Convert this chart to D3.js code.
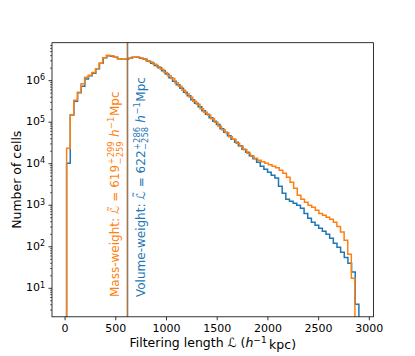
<!DOCTYPE html>
<html>
<head>
<meta charset="utf-8">
<script src="https://cdn.jsdelivr.net/npm/d3@7"></script>
<style>
  body { margin: 0; background: #fff; }
  text { font-family: "DejaVu Sans", sans-serif; white-space: pre; }
</style>
</head>
<body>
<div id="chart"></div>
<script>
    // histogram: 80 equal bins per series, each over its own range (h^-1 kpc)
    const binCount = 80;
    const massRange = [20, 2863];
    const volumeRange = [20, 2902];

    const massCounts = [
        23000, 144000, 330000, 514000, 824000, 1180000, 1320000, 1520000, 1890000, 2570000,
        3480000, 4000000, 3890000, 3580000, 3300000, 3210000, 3220000, 3390000, 3570000, 3590000,
        3480000, 3300000, 2950000, 2720000, 2430000, 2110000, 1840000, 1520000, 1280000, 1090000,
        871000, 717000, 574000, 473000, 389000, 312000, 264000, 206000, 169000, 144000,
        118000, 97000, 78000, 64000, 54300, 43500, 37900, 30300, 25700, 21100,
        17400, 14800, 13200, 11800, 10900, 10000, 9200, 8500, 7800, 6800,
        5700, 4600, 3500, 2500, 1690, 1360, 1150, 970, 870, 740,
        620, 560, 500, 450, 380, 300, 220, 140, 64, 17
    ];
    const volumeCounts = [
        10000, 144000, 312000, 500000, 717000, 1060000, 1280000, 1470000, 1890000, 2570000,
        3480000, 3890000, 3780000, 3580000, 3300000, 3210000, 3200000, 3390000, 3580000, 3570000,
        3390000, 3210000, 2870000, 2570000, 2240000, 2000000, 1690000, 1400000, 1150000, 946000,
        780000, 640000, 514000, 424000, 339000, 279000, 230000, 184000, 152000, 125000,
        103000, 85000, 68000, 56000, 46000, 37900, 32100, 26400, 21700, 18400,
        15200, 12800, 10600, 8500, 7200, 6100, 5100, 4400, 2800, 1890,
        1360, 1210, 1090, 970, 820, 620, 470, 380, 320, 270,
        230, 195, 156, 118, 95, 72, 54, 39, 24, 4
    ];

    const massMedian = 619, volumeMedian = 622;
    const xTicks = [0, 500, 1000, 1500, 2000, 2500, 3000];
    const yTickPowers = [1, 2, 3, 4, 5, 6];

    const blue = "#1f77b4", orange = "#ff7f0e";
    const width = 415, height = 356;
    const plotLeft = 52, plotRight = 373.5, plotTop = 42.7, plotBottom = 316.8;

    const svg = d3.select("#chart").append("svg")
        .attr("width", width)
        .attr("height", height);

    function edges(range) {
        const w = (range[1] - range[0]) / binCount;
        return d3.range(binCount + 1).map(i => range[0] + i * w);
    }
    const massEdges = edges(massRange);
    const volumeEdges = edges(volumeRange);

    // matplotlib-like 5% margins (log margins on y)
    const xMin = Math.min(massRange[0], volumeRange[0]);
    const xMax = Math.max(massRange[1], volumeRange[1]);
    const xPad = (xMax - xMin) * 0.05;
    const x = d3.scaleLinear().domain([xMin - xPad, xMax + xPad]).range([plotLeft, plotRight]);

    const allCounts = massCounts.concat(volumeCounts).filter(d => d > 0);
    const lo = Math.log10(d3.min(allCounts)), hi = Math.log10(d3.max(allCounts));
    const yPad = (hi - lo) * 0.05;
    const y = d3.scaleLog().domain([10 ** (lo - yPad), 10 ** (hi + yPad)]).range([plotBottom, plotTop]);

    svg.append("clipPath").attr("id", "plot-clip")
        .append("rect")
        .attr("x", plotLeft).attr("y", plotTop)
        .attr("width", plotRight - plotLeft).attr("height", plotBottom - plotTop);

    const plot = svg.append("g").attr("clip-path", "url(#plot-clip)");

    function stepPath(e, counts) {
        const yy = c => c > 0 ? y(c) : plotBottom + 20;
        const pts = [[x(e[0]), plotBottom + 20]];
        counts.forEach((c, i) => {
            pts.push([x(e[i]), yy(c)]);
            pts.push([x(e[i + 1]), yy(c)]);
        });
        pts.push([x(e[e.length - 1]), plotBottom + 20]);
        return d3.line()(pts);
    }

    plot.append("path")
        .attr("d", stepPath(volumeEdges, volumeCounts))
        .attr("fill", "none")
        .attr("stroke", blue)
        .attr("stroke-width", 1.5);

    plot.append("path")
        .attr("d", stepPath(massEdges, massCounts))
        .attr("fill", "none")
        .attr("stroke", orange)
        .attr("stroke-width", 1.5);

    // medians
    plot.append("line")
        .attr("x1", x(massMedian)).attr("x2", x(massMedian))
        .attr("y1", plotTop).attr("y2", plotBottom)
        .attr("stroke", orange).attr("stroke-width", 1.5);
    plot.append("line")
        .attr("x1", x(volumeMedian)).attr("x2", x(volumeMedian))
        .attr("y1", plotTop).attr("y2", plotBottom)
        .attr("stroke", blue).attr("stroke-width", 1.5)
        .attr("stroke-opacity", 0.5);

    // rotated annotation with stacked super/subscripts
    function mathLabel(bx, by, parts, color, size) {
        const g = svg.append("g")
            .attr("transform", `translate(${bx},${by}) rotate(-90)`)
            .attr("fill", color);
        let cx = 0;
        const put = (t, dx, dy, fs, italic) => {
            const el = g.append("text")
                .attr("x", cx + dx).attr("y", dy)
                .attr("font-size", fs)
                .attr("font-style", italic ? "italic" : null)
                .text(t);
            return el.node().getComputedTextLength();
        };
        parts.forEach(p => {
            if (p.tilde) {
                const w = put(p.tilde, 0, 0, size, false);
                g.append("text")
                    .attr("x", cx + w / 2 + 1).attr("y", -size * 0.22)
                    .attr("text-anchor", "middle")
                    .attr("font-size", size)
                    .text("\u02DC");
                cx += w;
            } else if (p.sup || p.sub) {
                const w1 = p.sup ? put(p.sup, 0.5, -size * 0.42, size * 0.7) : 0;
                const w2 = p.sub ? put(p.sub, 0.5, size * 0.28, size * 0.7) : 0;
                cx += Math.max(w1, w2) + 1;
            } else {
                cx += put(p.t, 0, 0, size, p.i);
            }
        });
    }

    const fs = 12;
    mathLabel(x(massMedian) - 8, 297, [
        { t: "Mass-weight: " }, { tilde: "\u2112" }, { t: " = 619" },
        { sup: "+299", sub: "\u2212259" }, { t: " " }, { t: "h", i: true },
        { sup: "\u22121" }, { t: "Mpc" }
    ], orange, fs);
    mathLabel(x(volumeMedian) + 17, 297, [
        { t: "Volume-weight: " }, { tilde: "\u2112" }, { t: " = 622" },
        { sup: "+286", sub: "\u2212258" }, { t: " " }, { t: "h", i: true },
        { sup: "\u22121" }, { t: "Mpc" }
    ], blue, fs);

    // axes
    const xAxis = svg.append("g")
        .attr("transform", `translate(0,${plotBottom})`)
        .call(d3.axisBottom(x).tickValues(xTicks).tickSize(3.5).tickPadding(3.5).tickFormat(d3.format("d")));
    xAxis.select(".domain").remove();
    xAxis.selectAll("text").attr("font-size", 11).attr("font-family", "DejaVu Sans").attr("fill", "#000");
    xAxis.selectAll("line").attr("stroke", "#000").attr("stroke-width", 0.8);

    const [d0, d1] = y.domain();
    const minorTicks = [];
    for (let p = Math.floor(Math.log10(d0)); p <= Math.ceil(Math.log10(d1)); p++) {
        for (let m = 2; m <= 9; m++) {
            const v = m * 10 ** p;
            if (v >= d0 && v <= d1) minorTicks.push(v);
        }
    }
    const yMinor = svg.append("g")
        .attr("transform", `translate(${plotLeft},0)`)
        .call(d3.axisLeft(y).tickValues(minorTicks).tickSize(2).tickFormat(""));
    yMinor.select(".domain").remove();
    yMinor.selectAll("line").attr("stroke", "#000").attr("stroke-width", 0.6);

    const yMajor = svg.append("g")
        .attr("transform", `translate(${plotLeft},0)`)
        .call(d3.axisLeft(y).tickValues(yTickPowers.map(p => 10 ** p)).tickSize(3.5).tickFormat(""));
    yMajor.select(".domain").remove();
    yMajor.selectAll("line").attr("stroke", "#000").attr("stroke-width", 0.8);

    yTickPowers.forEach(p => {
        const t = svg.append("text")
            .attr("x", plotLeft - 7)
            .attr("y", y(10 ** p))
            .attr("dy", "0.32em")
            .attr("text-anchor", "end")
            .attr("font-size", 11)
            .text("10");
        t.append("tspan")
            .attr("dy", "-0.45em")
            .attr("font-size", 8)
            .text(p);
    });

    svg.append("rect")
        .attr("x", plotLeft).attr("y", plotTop)
        .attr("width", plotRight - plotLeft).attr("height", plotBottom - plotTop)
        .attr("fill", "none")
        .attr("stroke", "#000")
        .attr("stroke-width", 0.8);

    // axis labels
    const xl = svg.append("text")
        .attr("x", (plotLeft + plotRight) / 2)
        .attr("y", 347)
        .attr("text-anchor", "middle")
        .attr("font-size", 12.5);
    xl.append("tspan").text("Filtering length ");
    xl.append("tspan").attr("font-style", "italic").text("\u2112");
    xl.append("tspan").text(" (");
    xl.append("tspan").attr("font-style", "italic").text("h");
    xl.append("tspan").attr("dy", "-0.45em").attr("font-size", 9).text("\u22121");
    xl.append("tspan").attr("dy", "0.45em").text("\u2009kpc)");

    svg.append("text")
        .attr("transform", `translate(21,${(plotTop + plotBottom) / 2}) rotate(-90)`)
        .attr("text-anchor", "middle")
        .attr("font-size", 12.5)
        .text("Number of cells");
</script>
</body>
</html>
